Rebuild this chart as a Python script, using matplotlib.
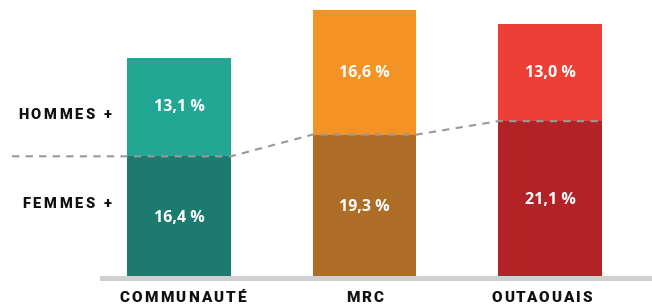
import matplotlib.pyplot as plt
from matplotlib.font_manager import FontProperties, findfont
from matplotlib.ft2font import FT2Font
from matplotlib.transforms import offset_copy, blended_transform_factory

# data
categories = ["COMMUNAUTÉ", "MRC", "OUTAOUAIS"]
femmes = [16.4, 19.3, 21.1]
hommes = [13.1, 16.6, 13.0]
colors_f = ["#1C7A6E", "#AE6D27", "#B22226"]
colors_h = ["#22A795", "#F39325", "#EC3F35"]

# crude pair kerning (points), since letters are drawn one by one
KERN = {"TA": -1.2, "AT": -1.0}


def spaced_text(ax, x, y, s, fp, track, trans, ha="left", **kw):
    """Draw text letter by letter (advance widths + tracking, in points)"""
    font = FT2Font(findfont(fp))
    font.set_size(fp.get_size_in_points(), 72)
    advs = [font.load_char(ord(ch)).linearHoriAdvance / 65536 for ch in s]
    steps = [adv + track + KERN.get(s[i:i + 2], 0) for i, adv in enumerate(advs)]
    total = sum(steps[:-1]) + advs[-1]
    pos = {"left": 0, "center": -total / 2, "right": -total}[ha]
    for ch, step in zip(s, steps):
        if ch != " ":
            t = offset_copy(trans, fig=ax.figure, x=pos, y=0, units="points")
            ax.text(x, y, ch, transform=t, ha="left", fontproperties=fp,
                    clip_on=False, **kw)
        pos += step


fig = plt.figure(figsize=(6.52, 3.04), dpi=100)
ax = fig.add_axes([0, 0.0737, 1, 0.8944])

x = list(range(len(categories)))
w = 0.56

ax.bar(x, femmes, width=w, color=colors_f, zorder=2)
ax.bar(x, hommes, width=w, bottom=femmes, color=colors_h, zorder=2)

for xi, f, h in zip(x, femmes, hommes):
    lab_f = f"{f:.1f} %".replace(".", ",")
    lab_h = f"{h:.1f} %".replace(".", ",")
    ax.text(xi, f / 2, lab_f, ha="center", va="center", color="white",
            fontsize=11.5, fontweight="bold", family="Open Sans", zorder=4)
    ax.text(xi, f + h / 2, lab_h, ha="center", va="center", color="white",
            fontsize=11.5, fontweight="bold", family="Open Sans", zorder=4)

# dashed line along the femmes / hommes boundary
lx, ly = [x[0] - 0.9], [femmes[0]]
for xi, f in zip(x, femmes):
    lx += [xi - w / 2, xi + w / 2]
    ly += [f, f]
ax.plot(lx, ly, ls=(0, (3.5, 3)), color="#999999", lw=1.5, zorder=3)

# grey base strip
ax.axhspan(-0.27, 0.4, xmin=100 / 652, xmax=1, color="#D0D0D2", lw=0, zorder=3)

lab_fp = FontProperties(family="Roboto", weight="heavy", size=10.5)
spaced_text(ax, x[0] - 0.367, 21.9, "HOMMES +", lab_fp, 1.9, ax.transData,
            ha="right", va="center", color="#111111")
spaced_text(ax, x[0] - 0.367, 10.0, "FEMMES +", lab_fp, 1.9, ax.transData,
            ha="right", va="center", color="#111111")

# category labels below the strip
cat_fp = FontProperties(family="Roboto", weight="heavy", size=11)
cat_shift = [0.02, 0.0, -0.045]
tb = blended_transform_factory(ax.transData, ax.transAxes)
for xi, c, sh in zip(x, categories, cat_shift):
    t = offset_copy(tb, fig=fig, x=0, y=-14.4, units="points")
    spaced_text(ax, xi + sh, 0, c, cat_fp, 1.5, t, ha="center",
                va="baseline", color="#111111")

ax.set_xlim(-179 / 185.5, (652 - 179) / 185.5)
ax.set_ylim(-0.35, 36)
ax.set_xticks([])
ax.set_yticks([])
for s in ax.spines.values():
    s.set_visible(False)

fig.savefig("out.png", dpi=100)
